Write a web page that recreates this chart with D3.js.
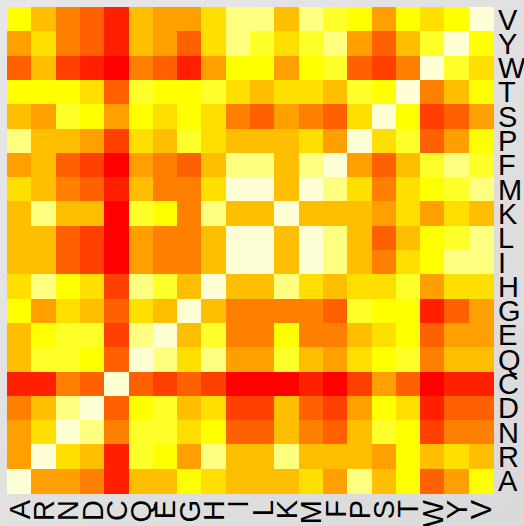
<!DOCTYPE html>
<html>
<head>
<meta charset="utf-8">
<script src="https://cdn.jsdelivr.net/npm/d3@7"></script>
<style>
  html, body { margin: 0; padding: 0; }
  body { width: 524px; height: 526px; overflow: hidden; }
</style>
</head>
<body>
<div id="chart"></div>
<script>
// amino acids, columns left to right
const colLabels = ["A","R","N","D","C","Q","E","G","H","I","L","K","M","F","P","S","T","W","Y","V"];
// rows, top to bottom
const rowLabels = ["V","Y","W","T","S","P","F","M","K","L","I","H","G","E","Q","C","D","N","R","A"];

// colour level of each cell (0 = lowest, 11 = highest), read per row
const rowV = [8,6,4,3,1,6,5,5,7,10,10,6,10,9,8,5,8,7,8,11];
const rowY = [5,7,4,3,1,6,5,3,7,10,9,7,9,10,5,3,6,9,11,8];
const rowW = [3,6,2,1,0,4,3,1,5,8,8,5,8,9,3,2,4,11,9,7];
const rowT = [8,8,8,7,3,9,8,8,9,7,6,7,7,6,9,8,11,4,6,8];
const rowS = [6,5,9,8,5,8,7,8,7,4,3,5,4,3,7,11,8,2,3,5];
const rowP = [10,6,6,5,2,7,6,9,7,6,6,6,7,5,11,7,9,3,5,8];
const rowF = [5,6,3,2,0,5,4,3,6,10,10,6,10,11,5,3,6,9,10,9];
const rowM = [7,6,4,3,1,6,4,4,7,11,11,6,11,10,7,4,7,8,9,10];
const rowK = [6,10,6,6,0,9,8,4,10,6,6,11,6,6,6,5,7,5,7,6];
const rowL = [6,6,3,2,0,5,4,4,6,11,11,6,11,10,6,3,6,8,9,10];
const rowI = [6,6,3,2,0,5,4,4,6,11,11,6,11,10,6,4,7,8,10,10];
const rowH = [7,10,8,7,2,10,9,6,11,6,6,10,7,6,7,7,9,5,7,7];
const rowG = [8,5,7,6,3,7,6,11,6,4,4,4,4,3,9,8,8,1,3,5];
const rowE = [6,8,9,9,2,10,11,6,9,4,4,8,4,4,6,7,8,3,5,5];
const rowQ = [6,9,9,8,3,11,10,7,10,5,5,9,6,5,7,8,9,4,6,6];
const rowC = [1,1,4,3,11,3,2,3,2,0,0,0,1,0,2,5,3,0,1,1];
const rowD = [4,6,10,11,3,8,9,6,7,2,2,6,3,2,5,8,7,1,3,3];
const rowN = [5,7,11,10,4,9,9,7,8,3,3,6,4,3,6,9,8,2,4,4];
const rowR = [5,11,7,6,1,9,8,5,10,6,6,10,6,6,6,5,8,6,7,6];
const rowA = [11,5,5,4,1,6,6,8,7,6,6,6,7,5,10,6,8,3,5,8];

const rows = [rowV,rowY,rowW,rowT,rowS,rowP,rowF,rowM,rowK,rowL,rowI,rowH,rowG,rowE,rowQ,rowC,rowD,rowN,rowR,rowA];

// heat palette, 12 steps red -> yellow -> pale
const heat = ["#FF0000","#FF2000","#FF4000","#FF6000","#FF8000","#FF9F00",
              "#FFBF00","#FFDF00","#FFFF00","#FFFF2A","#FFFF80","#FFFFD5"];

const width = 524, height = 526;
const margin = {top: 7, right: 31, bottom: 33, left: 7};

const cells = [];
rows.forEach((r, i) => r.forEach((v, j) => cells.push({row: rowLabels[i], col: colLabels[j], level: v})));

const svg = d3.select("#chart").append("svg")
    .attr("width", width)
    .attr("height", height);

// light grey backdrop
const grad = svg.append("defs").append("linearGradient")
    .attr("id", "bg").attr("x1", 0).attr("y1", 0).attr("x2", 1).attr("y2", 1);
grad.append("stop").attr("offset", "0%").attr("stop-color", "#e7e7e7");
grad.append("stop").attr("offset", "100%").attr("stop-color", "#dadada");
svg.append("rect").attr("width", width).attr("height", height).attr("fill", "url(#bg)");

const x = d3.scaleBand()
    .domain(colLabels)
    .range([margin.left, width - margin.right]);

const y = d3.scaleBand()
    .domain(rowLabels)
    .range([margin.top, height - margin.bottom]);

const color = d3.scaleOrdinal()
    .domain(d3.range(heat.length))
    .range(heat);

svg.append("g")
    .attr("shape-rendering", "crispEdges")
  .selectAll("rect")
  .data(cells)
  .enter().append("rect")
    .attr("x", d => x(d.col))
    .attr("y", d => y(d.row))
    .attr("width", x.bandwidth() + 0.5)
    .attr("height", y.bandwidth() + 0.5)
    .attr("fill", d => color(d.level));

// row labels on the right
svg.append("g")
    .attr("font-family", "Liberation Sans, Arial, sans-serif")
    .attr("font-size", 29)
  .selectAll("text")
  .data(rowLabels)
  .enter().append("text")
    .attr("x", width - margin.right + 5)
    .attr("y", d => y(d) + y.bandwidth() / 2)
    .attr("dy", "0.36em")
    .attr("fill", "#000")
    .text(d => d);

// column labels at the bottom, turned upright
svg.append("g")
    .attr("font-family", "Liberation Sans, Arial, sans-serif")
    .attr("font-size", 29)
  .selectAll("text")
  .data(colLabels)
  .enter().append("text")
    .attr("transform", d => `translate(${x(d) + x.bandwidth() / 2},${height - margin.bottom + 7}) rotate(-90)`)
    .attr("text-anchor", "end")
    .attr("dy", "0.36em")
    .attr("fill", "#000")
    .text(d => d);
</script>
</body>
</html>
